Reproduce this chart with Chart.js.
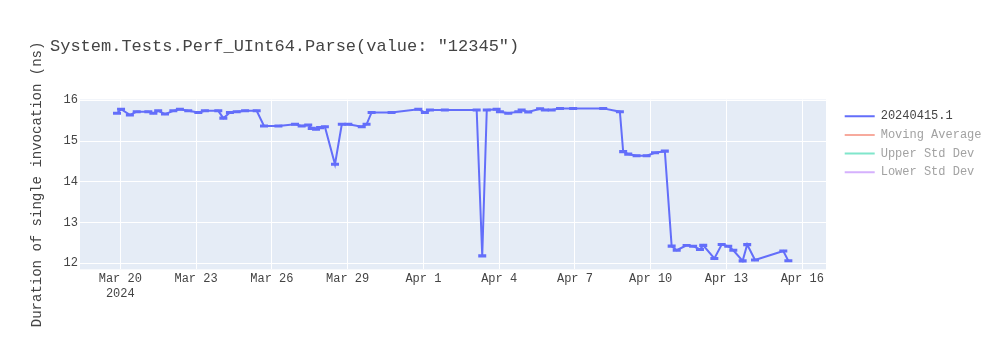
<!DOCTYPE html>
<html>
<head>
<meta charset="utf-8">
<script src="https://cdn.jsdelivr.net/npm/chart.js@4.4.1/dist/chart.umd.min.js"></script>
<style>
html,body{margin:0;padding:0;background:#fff;}
#wrap{width:1000px;height:350px;position:relative;}
</style>
</head>
<body>
<div id="wrap"><canvas id="c" width="1000" height="350"></canvas></div>
<script>
const chartTitle = 'System.Tests.Perf_UInt64.Parse(value: "12345")';
const yAxisTitle = 'Duration of single invocation (ns)';
const seriesNames = ['20240415.1', 'Moving Average', 'Upper Std Dev', 'Lower Std Dev'];
const seriesColors = ['#636efa', '#f7aa9d', '#80e6cb', '#d5b1fd'];

const timestamps = [
  '2024-03-19T20:53','2024-03-20T00:43','2024-03-20T09:07','2024-03-20T15:36','2024-03-21T02:38','2024-03-21T07:26','2024-03-21T12:00','2024-03-21T18:29','2024-03-22T02:24','2024-03-22T08:38',
  '2024-03-22T16:34','2024-03-23T02:10','2024-03-23T08:24','2024-03-23T21:07','2024-03-24T01:55','2024-03-24T08:10','2024-03-24T14:38','2024-03-24T22:34','2024-03-25T09:36','2024-03-25T16:34',
  '2024-03-26T06:14','2024-03-26T22:05','2024-03-27T04:19','2024-03-27T10:34','2024-03-27T13:55','2024-03-27T18:00','2024-03-27T21:50','2024-03-28T02:24','2024-03-28T12:00','2024-03-28T18:29',
  '2024-03-29T00:43','2024-03-29T13:26','2024-03-29T18:00','2024-03-29T22:48','2024-03-30T17:46','2024-03-31T19:12','2024-04-01T01:26','2024-04-01T06:14','2024-04-01T20:24','2024-04-03T02:38',
  '2024-04-03T07:55','2024-04-03T12:14','2024-04-03T21:36','2024-04-04T00:43','2024-04-04T08:38','2024-04-04T18:14','2024-04-04T21:22','2024-04-05T03:36','2024-04-05T14:53','2024-04-05T19:26',
  '2024-04-06T01:55','2024-04-06T09:50','2024-04-06T22:19','2024-04-08T02:53','2024-04-08T18:43','2024-04-08T21:50','2024-04-09T02:38','2024-04-09T10:34','2024-04-09T20:10','2024-04-10T04:05',
  '2024-04-10T13:26','2024-04-10T19:55','2024-04-11T00:43','2024-04-11T10:05','2024-04-11T16:19','2024-04-11T22:48','2024-04-12T01:55','2024-04-12T12:29','2024-04-12T19:26','2024-04-13T01:41',
  '2024-04-13T06:29','2024-04-13T15:22','2024-04-13T19:41','2024-04-14T03:07','2024-04-15T06:00','2024-04-15T10:48'
];

const durations = [
  15.68,15.78,15.64,15.72,15.72,15.68,15.74,15.66,15.74,15.78,
  15.74,15.70,15.74,15.74,15.56,15.70,15.72,15.74,15.74,15.37,
  15.37,15.41,15.37,15.39,15.31,15.29,15.33,15.35,14.43,15.41,
  15.41,15.35,15.41,15.70,15.70,15.78,15.70,15.76,15.76,15.76,
  12.18,15.76,15.78,15.72,15.68,15.72,15.76,15.71,15.79,15.76,
  15.76,15.80,15.80,15.80,15.72,14.74,14.68,14.64,14.64,14.71,
  14.75,12.42,12.32,12.44,12.42,12.34,12.44,12.12,12.46,12.42,
  12.32,12.06,12.46,12.08,12.30,12.06
];

const errors = [
  0.012,0.012,0.012,0.012,0.012,0.012,0.012,0.012,0.012,0.012,
  0.012,0.012,0.012,0.012,0.015,0.012,0.012,0.012,0.012,0.012,
  0.012,0.012,0.012,0.012,0.015,0.015,0.015,0.012,0.015,0.012,
  0.012,0.012,0.012,0.012,0.012,0.012,0.012,0.012,0.012,0.012,
  0.015,0.012,0.012,0.012,0.012,0.012,0.012,0.012,0.012,0.012,
  0.012,0.012,0.012,0.012,0.012,0.015,0.015,0.012,0.012,0.012,
  0.015,0.015,0.012,0.012,0.012,0.012,0.015,0.012,0.012,0.012,
  0.012,0.015,0.015,0.012,0.012,0.012
];

const xTickDates = ['2024-03-20','2024-03-23','2024-03-26','2024-03-29','2024-04-01','2024-04-04','2024-04-07','2024-04-10','2024-04-13','2024-04-16'];
const xTickLabels = [['Mar 20','2024'],'Mar 23','Mar 26','Mar 29','Apr 1','Apr 4','Apr 7','Apr 10','Apr 13','Apr 16'];
const yTickValues = [12, 13, 14, 15, 16];
const xRange = ['2024-03-18T09:43', '2024-04-16T22:34'];
const yRange = [11.853, 16.018];

const FONT = "'Courier New', 'Liberation Mono', monospace";
const toMs = s => Date.parse(s.length <= 10 ? s + 'T00:00:00Z' : s + ':00Z');
const xTickMs = xTickDates.map(toMs);
const points = timestamps.map((t, i) => ({ x: toMs(t), y: durations[i] }));

const plotBg = {
  id: 'plotBg',
  beforeDraw(chart) {
    const { ctx, chartArea: a } = chart;
    ctx.save();
    ctx.fillStyle = '#E5ECF6';
    ctx.fillRect(a.left, a.top, a.right - a.left, a.bottom - a.top);
    ctx.restore();
  }
};

const errBars = {
  id: 'errBars',
  afterDatasetsDraw(chart) {
    const { ctx, chartArea: a, scales } = chart;
    const xs = scales.x, ys = scales.y;
    ctx.save();
    ctx.beginPath();
    ctx.rect(a.left, a.top, a.right - a.left, a.bottom - a.top);
    ctx.clip();
    ctx.strokeStyle = seriesColors[0];
    ctx.lineWidth = 2;
    const w = 4;
    points.forEach((p, i) => {
      const px = xs.getPixelForValue(p.x);
      const yt = ys.getPixelForValue(p.y + errors[i]);
      const yb = ys.getPixelForValue(p.y - errors[i]);
      ctx.beginPath();
      ctx.moveTo(px, yt); ctx.lineTo(px, yb);
      ctx.moveTo(px - w, yt); ctx.lineTo(px + w, yt);
      ctx.moveTo(px - w, yb); ctx.lineTo(px + w, yb);
      ctx.stroke();
    });
    ctx.restore();
  }
};

const plotTitle = {
  id: 'plotTitle',
  afterDraw(chart) {
    const ctx = chart.ctx;
    ctx.save();
    ctx.font = '17px ' + FONT;
    ctx.fillStyle = '#444';
    ctx.textBaseline = 'middle';
    ctx.textAlign = 'left';
    ctx.fillText(chartTitle, 50, 46);
    ctx.restore();
  }
};

new Chart(document.getElementById('c'), {
  type: 'line',
  data: {
    datasets: seriesNames.map((name, i) => ({
      label: name,
      data: i === 0 ? points : [],
      borderColor: seriesColors[i],
      backgroundColor: seriesColors[i],
      borderWidth: 2,
      pointRadius: 0,
      pointHoverRadius: 0,
      tension: 0,
      fill: false
    }))
  },
  options: {
    responsive: false,
    animation: false,
    devicePixelRatio: 1,
    layout: { padding: { top: 99.5, left: 20, right: 12, bottom: 0 } },
    plugins: {
      title: { display: false },
      tooltip: { enabled: false },
      legend: {
        position: 'right',
        align: 'start',
        maxWidth: 150,
        title: { display: true, text: ' ', font: { size: 1, lineHeight: 1 }, padding: { top: 0, bottom: 3 } },
        labels: {
          font: { family: FONT, size: 12 },
          boxWidth: 30,
          boxHeight: 2,
          padding: 6.7,
          generateLabels(chart) {
            return chart.data.datasets.map((ds, i) => ({
              text: ds.label,
              fillStyle: ds.borderColor,
              strokeStyle: ds.borderColor,
              lineWidth: 0,
              hidden: false,
              datasetIndex: i,
              fontColor: i === 0 ? '#444' : '#a2a2a2'
            }));
          }
        }
      }
    },
    scales: {
      x: {
        type: 'linear',
        min: toMs(xRange[0]),
        max: toMs(xRange[1]),
        grid: { color: '#ffffff', lineWidth: 1, drawTicks: false },
        border: { display: false },
        ticks: {
          font: { family: FONT, size: 12, lineHeight: 1.25 },
          color: '#444',
          padding: 2,
          maxRotation: 0,
          autoSkip: false,
          callback: (v, idx) => xTickLabels[idx]
        },
        afterBuildTicks: s => { s.ticks = xTickMs.map(v => ({ value: v })); },
        afterFit: s => { s.height = 80.7; }
      },
      y: {
        type: 'linear',
        position: 'left',
        min: yRange[0],
        max: yRange[1],
        grid: { color: '#ffffff', lineWidth: 1, drawTicks: false },
        border: { display: false },
        ticks: {
          font: { family: FONT, size: 12 },
          color: '#444',
          padding: 2,
          callback: v => String(v)
        },
        title: {
          display: true,
          text: yAxisTitle,
          font: { family: FONT, size: 14 },
          color: '#444',
          padding: { top: 8.6, bottom: 0 }
        },
        afterBuildTicks: s => { s.ticks = yTickValues.map(v => ({ value: v })); },
        afterFit: s => { s.width = 60; }
      },
      y2: {
        type: 'linear',
        position: 'right',
        display: true,
        grid: { display: false, drawOnChartArea: false },
        border: { display: false },
        ticks: { display: false },
        afterFit: s => { s.width = 12; }
      }
    }
  },
  plugins: [plotBg, errBars, plotTitle]
});
</script>
</body>
</html>
